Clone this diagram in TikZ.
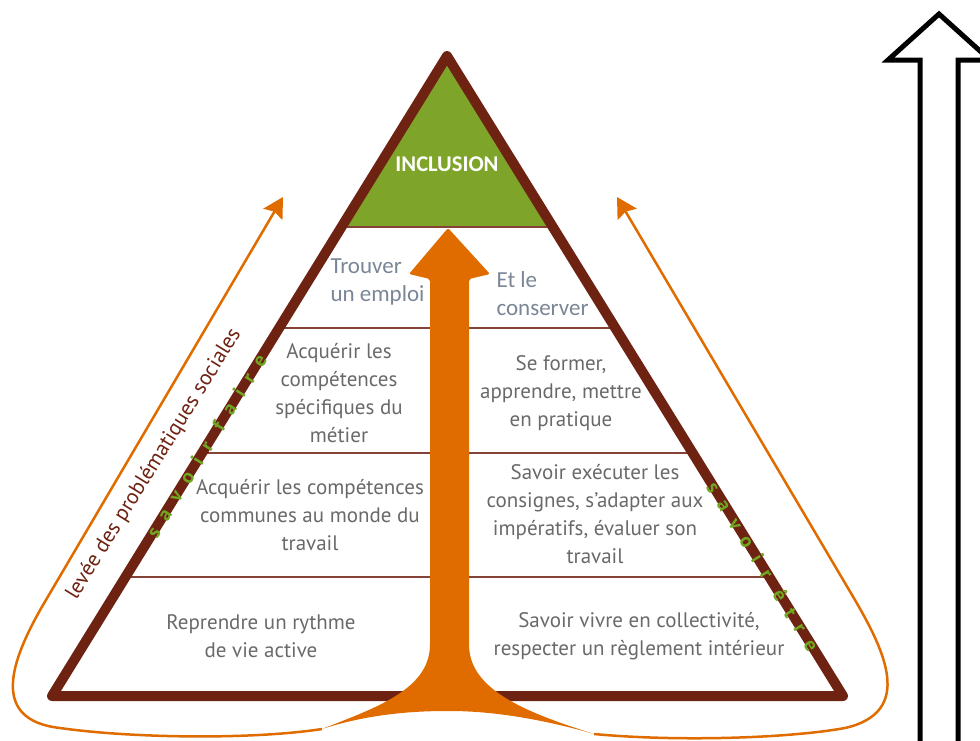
\documentclass[tikz,border=0pt]{standalone}
\usepackage{fontspec}
\setmainfont{PT Sans}
\newfontfamily\calfont{Carlito}
\newfontfamily\savfont[LetterSpace=58]{PT Sans}
\usetikzlibrary{arrows.meta,calc}
\definecolor{pyrbrown}{RGB}{110,34,18}
\definecolor{incgreen}{RGB}{127,164,42}
\definecolor{savgreen}{RGB}{112,166,32}
\definecolor{arrorange}{RGB}{224,108,0}
\definecolor{cellgray}{RGB}{105,105,105}
\definecolor{jobgray}{RGB}{122,134,150}
\begin{document}
\begin{tikzpicture}[x=1pt, y=-1pt,
	cell/.style={text=cellgray, align=center, font=\fontsize{21}{28}\selectfont},
	job/.style={text=jobgray, align=left, anchor=west, font=\calfont\fontsize{23}{28}\selectfont},
	savoir/.style={text=savgreen, inner sep=0pt, font=\savfont\bfseries\fontsize{20}{20}\selectfont},
	sideloop/.style={arrorange, line width=2.5pt, -{Stealth[length=20pt,width=22pt,inset=3pt]}},
	divider/.style={pyrbrown!85, line width=2pt}]
	\useasboundingbox (0,0) rectangle (980,740);
	\clip (0,0) rectangle (980,740);
	
	%pyramid corners
	\coordinate (apex) at (447,56);
	\coordinate (bl) at (52,696);
	\coordinate (br) at (843,696);
	
	%green top and floors
	\fill[incgreen] (apex) -- ($(apex)!0.267!(bl)$) -- ($(apex)!0.267!(br)$) -- cycle;
	\foreach \f in {0.267, 0.425, 0.620, 0.814}{
		\draw[divider] ($(apex)!\f!(bl)$) -- ($(apex)!\f!(br)$);
	}
	\draw[pyrbrown, line width=10pt, line join=round] (apex) -- (bl) -- (br) -- cycle;
	
	%letters on the sides
	\path (bl) -- (apex) node[savoir, sloped, pos=0.391] (sfaire) {savoir faire};
	\path (apex) -- (br) node[savoir, sloped, pos=0.798] (setre) {savoir être};
	\node[text=pyrbrown, rotate=58.3, inner sep=0pt, font=\fontsize{21.5}{24}\selectfont] (levee) at (154,464) {levée des problématiques sociales};
	
	%thin side arrows
	\coordinate (ltip) at (283,197);
	\coordinate (rtip) at (617,197);
	\coordinate (lflare) at (322,729);
	\coordinate (rflare) at (594,734);
	\draw[sideloop] (lflare) .. controls (250,740) and (130,738) .. (60,728)
		.. controls (-10,720) and (10,662) .. (43,605) -- (ltip);
	\draw[sideloop] (rflare) .. controls (680,742) and (790,738) .. (845,728)
		.. controls (915,712) and (884,650) .. (855,600) -- (rtip);
	
	%big arrow in the middle
	\fill[arrorange, rounded corners=2pt] (448,228) -- (490,274) -- (469,279) -- (469,645)
		.. controls (471,690) and (525,712) .. (rflare)
		.. controls (545,720) and (495,711) .. (448,711)
		.. controls (400,711) and (360,717) .. (lflare)
		.. controls (375,708) and (428,690) .. (430,645) -- (430,279) -- (409,274) -- cycle;
	
	%right outline arrow
	\draw[line width=5pt, fill=white] (939,14) -- (990,60) -- (958,60) -- (958,750)
		-- (920,750) -- (920,60) -- (888,60) -- cycle;
	
	%texts
	\node[text=white, font=\calfont\bfseries\fontsize{22.5}{24}\selectfont] (incl) at (447,164) {INCLUSION};
	\node[job] (emploi) at (327,282) {Trouver\\un emploi};
	\node[job] (conserver) at (493,294) {Et le\\conserver};
	\node[cell] (metier) at (339,393) {Acquérir les\\compétences\\spécifiques du\\métier};
	\node[cell] (former) at (561,393) {Se former,\\apprendre, mettre\\en pratique};
	\node[cell] (communes) at (310,515) {Acquérir les compétences\\communes au monde du\\travail};
	\node[cell] (executer) at (595,514) {Savoir exécuter les\\consignes, s’adapter aux\\impératifs, évaluer son\\travail};
	\node[cell] (rythme) at (261,636) {Reprendre un rythme\\de vie active};
	\node[cell] (collectif) at (639,636) {Savoir vivre en collectivité,\\respecter un règlement intérieur};
\end{tikzpicture}
\end{document}
